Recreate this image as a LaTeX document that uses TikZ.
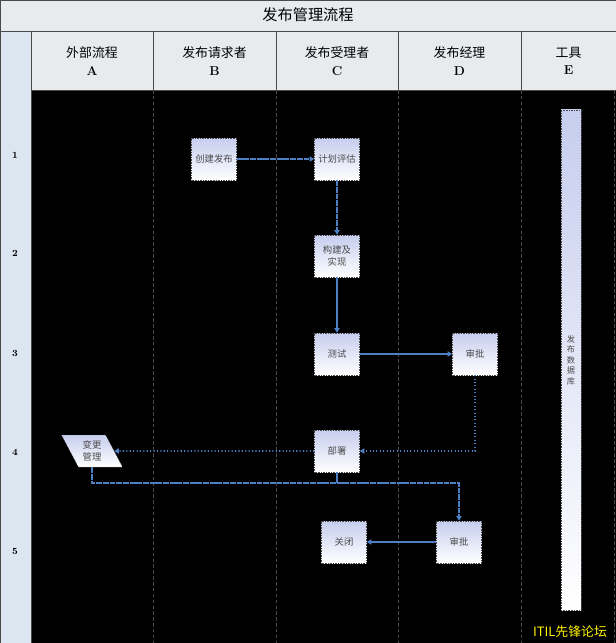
\documentclass[tikz,border=0pt]{standalone}
\usepackage{fontspec}
\newfontfamily\cjk{Noto Sans CJK SC}
\usetikzlibrary{positioning, arrows.meta, shapes.geometric}
\definecolor{hdrgray}{HTML}{E8EBEE}
\definecolor{rowblue}{HTML}{DCE6F1}
\definecolor{boxtop}{HTML}{C6CDEE}
\definecolor{linkblue}{HTML}{4F80C6}
\definecolor{lanegray}{HTML}{4A4A4A}

\begin{document}
\begin{tikzpicture}[x=0.03cm, y=-0.03cm,
    act/.style={draw=lanegray, densely dotted, top color=boxtop, bottom color=white,
      minimum width=1.35cm, minimum height=1.26cm, inner sep=1pt, align=center,
      text=black!70, font=\cjk\fontsize{8}{10}\selectfont},
    hdr/.style={draw=lanegray, fill=hdrgray},
    link/.style={draw=linkblue, line width=0.9pt, dash pattern=on 5pt off 0.7pt,
      -{Triangle[length=4pt,width=4.5pt]}},
    lane/.style={lanegray, densely dashed}
  ]
  \useasboundingbox (0,0) rectangle (616,643);

  % frame
  \fill[black] (31,90) rectangle (616,643);
  \draw[hdr] (0,0) rectangle (616,31);
  \node[font=\cjk\fontsize{13}{15}\selectfont] (title) at (308,15) {发布管理流程};
  \fill[rowblue] (0,31) rectangle (31,643);
  \draw[lanegray] (0,31) rectangle (31,643);

  % lanes
  \foreach \x/\y/\name/\lab in {31/153/外部流程/A, 153/276/发布请求者/B, 276/398/发布受理者/C,
      398/521/发布经理/D, 521/616/工具/E} {
    \draw[hdr] (\x,31) rectangle (\y,90);
    \node[align=center, font=\fontsize{11}{15}\selectfont]
      (h\lab) at ({(\x+\y)/2},61) {{\cjk \name}\\\textbf{\lab}};
  }
  \foreach \x in {153,276,398,521,614}
    \draw[lane] (\x,90) -- (\x,643);

  % rows
  \foreach \n/\y in {1/155, 2/253, 3/353, 4/452, 5/551}
    \node[font=\bfseries\fontsize{8}{9}\selectfont] (r\n) at (15,\y) {\n};

  % activities
  \node[act] (cr) at (214,159) {创建发布};
  \node[act] (pe) at (337,159) {计划评估};
  \node[act] (bi) at (337,256) {构建及\\实现};
  \node[act] (ts) at (337,354) {测试};
  \node[act] (ap) at (475,354) {审批};
  \node[act] (dp) at (337,451) {部署};
  \node[act, trapezium, trapezium left angle=120, trapezium right angle=60,
    trapezium stretches=true, minimum width=1.83cm, minimum height=0.96cm] (chg) at (92,451) {变更\\管理};
  \node[act] (apb) at (459,542) {审批};
  \node[act] (cl) at (344,542) {关闭};
  \node[act, minimum width=0.6cm, minimum height=15cm, font=\cjk\fontsize{7}{9}\selectfont]
    (db) at (571,360) {发\\布\\数\\据\\库};
  \node[text=yellow, font=\cjk\fontsize{11}{13}\selectfont] (logo) at (570,632) {ITIL先锋论坛};

  \coordinate (jn) at (337,483);

  % flows
  \draw[link] (cr) -- (pe);
  \draw[link] (pe) -- (bi);
  \draw[link, solid] (bi) -- (ts);
  \draw[link, solid] (ts) -- (ap);
  \draw[link, dotted, line width=1.3pt] (ap) |- (dp);
  \draw[link, dotted, line width=1.3pt] (dp) -- (chg);
  \draw[link] (chg.south) |- (jn) -| (apb.north);
  \draw[linkblue, line width=0.9pt] (dp) -- (jn);
  \draw[link, solid] (apb) -- (cl);
\end{tikzpicture}
\end{document}
